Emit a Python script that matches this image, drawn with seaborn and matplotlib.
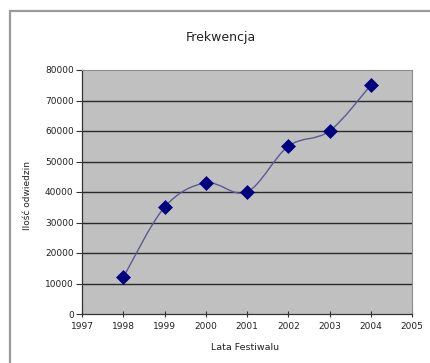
import numpy as np
import pandas as pd
import matplotlib
matplotlib.use("Agg")
import matplotlib.pyplot as plt
from matplotlib.path import Path
from matplotlib.patches import PathPatch, Rectangle
import seaborn as sns

# Festival attendance by year
years = [1998, 1999, 2000, 2001, 2002, 2003, 2004]
visitors = [12000, 35000, 43000, 40000, 55000, 60000, 75000]
x_ticks = [1997, 1998, 1999, 2000, 2001, 2002, 2003, 2004, 2005]
y_ticks = [0, 10000, 20000, 30000, 40000, 50000, 60000, 70000, 80000]

title = "Frekwencja"
x_label = "Lata Festiwalu"
y_label = "Ilość odwiedzin"

df = pd.DataFrame({"rok": years, "odwiedziny": visitors})

sns.set_theme(style="white")
plt.rcParams["font.family"] = ["DejaVu Sans"]

W, H = 430, 363
fig = plt.figure(figsize=(W / 100, H / 100), dpi=100)
fig.patch.set_facecolor("white")

# plot area in pixel coordinates
left, right, top, bottom = 82, 412, 70, 314
ax = fig.add_axes([left / W, 1 - bottom / H, (right - left) / W, (bottom - top) / H])
ax.set_facecolor("#c0c0c0")

ax.set_xlim(x_ticks[0], x_ticks[-1])
ax.set_ylim(y_ticks[0], y_ticks[-1])
ax.set_xticks(x_ticks)
ax.set_yticks(y_ticks)
ax.set_xticklabels([str(t) for t in x_ticks], fontsize=6.5, color="#222222")
ax.set_yticklabels([str(t) for t in y_ticks], fontsize=6.5, color="#222222")

for yv in y_ticks[1:-1]:
    ax.axhline(yv, color="#2a2a2a", lw=1.0, zorder=1)

for side in ["top", "right"]:
    ax.spines[side].set_color("#8c8c8c")
    ax.spines[side].set_linewidth(0.8)
for side in ["left", "bottom"]:
    ax.spines[side].set_color("#333333")
    ax.spines[side].set_linewidth(0.9)

ax.tick_params(axis="y", direction="out", length=4, width=0.8, color="#333333", pad=2, left=True)
ax.tick_params(axis="x", direction="inout", length=4, width=0.8, color="#333333", pad=4, bottom=True)

# smoothed connecting line (Catmull-Rom as cubic Bezier segments)
xs = np.array(years, dtype=float)
ys = np.array(visitors, dtype=float)
n = len(xs)
verts = [(xs[0], ys[0])]
codes = [Path.MOVETO]
t = 1 / 6
for i in range(n - 1):
    p0 = np.array([xs[max(i - 1, 0)], ys[max(i - 1, 0)]])
    p1 = np.array([xs[i], ys[i]])
    p2 = np.array([xs[i + 1], ys[i + 1]])
    p3 = np.array([xs[min(i + 2, n - 1)], ys[min(i + 2, n - 1)]])
    c1 = p1 + (p2 - p0) * t
    c2 = p2 - (p3 - p1) * t
    verts += [tuple(c1), tuple(c2), tuple(p2)]
    codes += [Path.CURVE4] * 3
ax.add_patch(PathPatch(Path(verts, codes), facecolor="none",
                       edgecolor="#5a5a94", lw=1.0, zorder=3))

sns.scatterplot(data=df, x="rok", y="odwiedziny", marker="D", s=50,
                color="#000080", edgecolor="#000080", linewidth=0.5,
                ax=ax, zorder=4, legend=False)
ax.set_xlabel("")
ax.set_ylabel("")

fig.text(221 / W, 1 - 37 / H, title, ha="center", va="center", fontsize=9, color="#222222")
fig.text(245 / W, 1 - 348 / H, x_label, ha="center", va="center", fontsize=6.8, color="#222222")
fig.text(27 / W, 1 - 195 / H, y_label, ha="center", va="center", rotation=90,
         fontsize=6.5, color="#222222")

# chart area frame
fig.patches.append(Rectangle((9.5 / W, -0.1), 1.0, 1 - 11 / H + 0.1, transform=fig.transFigure,
                             facecolor="none", edgecolor="#9a9a9a", lw=1.6, zorder=0))

fig.savefig("out.png", dpi=100, facecolor="white")
